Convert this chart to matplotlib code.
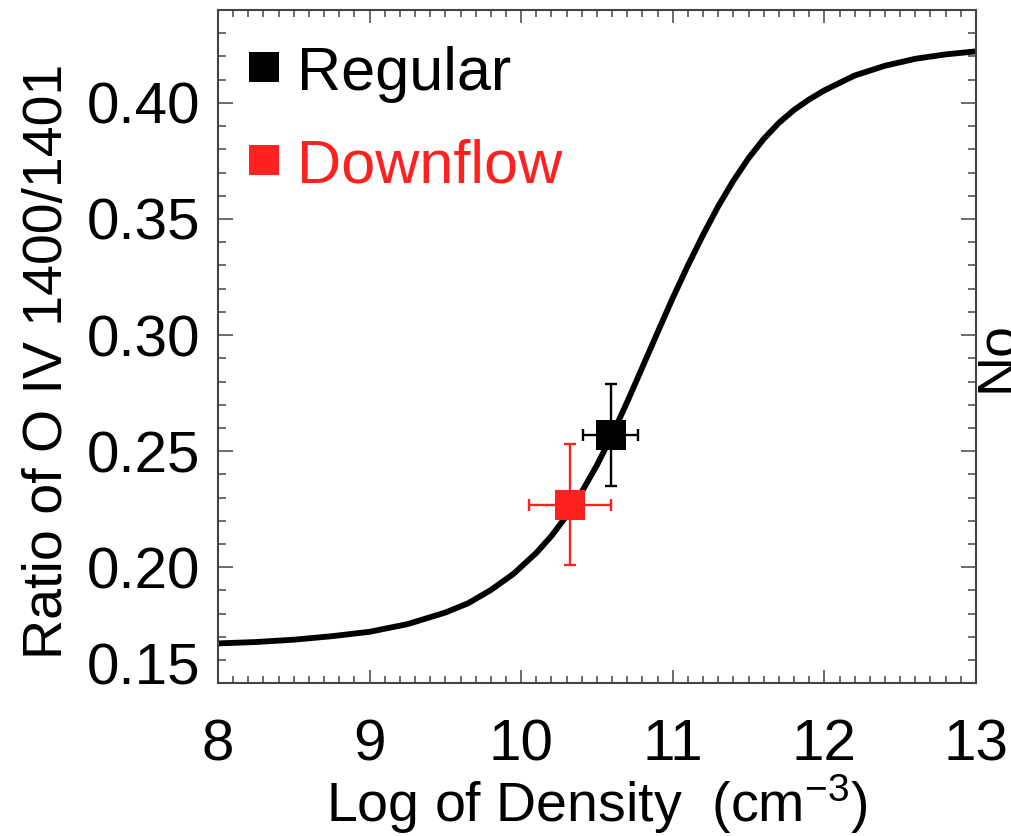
import matplotlib
matplotlib.use('Agg')
import matplotlib.pyplot as plt
from matplotlib.ticker import MultipleLocator
from matplotlib.transforms import ScaledTranslation

plt.rcParams['font.family'] = ['Liberation Sans', 'DejaVu Sans']
plt.rcParams['mathtext.fontset'] = 'custom'
plt.rcParams['mathtext.rm'] = 'Liberation Sans'
plt.rcParams['mathtext.it'] = 'Liberation Sans:italic'

# theoretical O IV 1400/1401 ratio vs log density
log_density = [8.0, 8.25, 8.5, 8.75, 9.0, 9.25, 9.5, 9.65, 9.8, 9.95,
               10.1, 10.2, 10.3, 10.4, 10.5, 10.6, 10.7, 10.8, 10.9, 11.0,
               11.1, 11.2, 11.3, 11.4, 11.5, 11.6, 11.7, 11.8, 11.9, 12.0,
               12.2, 12.4, 12.6, 12.8, 13.0]
ratio = [0.1672, 0.1678, 0.1688, 0.1703, 0.1722, 0.1755, 0.1805, 0.1845, 0.1902, 0.1972,
         0.2062, 0.2135, 0.2222, 0.2325, 0.2440, 0.2570, 0.2713, 0.2862, 0.3012, 0.3160,
         0.3300, 0.3432, 0.3555, 0.3665, 0.3762, 0.3845, 0.3914, 0.3970, 0.4015, 0.4054,
         0.4118, 0.4160, 0.4190, 0.4209, 0.4222]

# observed points
labels = ['Regular', 'Downflow']
colors = ['black', '#ff2020']
obs_density = [10.59, 10.32]
obs_ratio = [0.257, 0.227]
density_err = [0.18, 0.27]
ratio_err = [0.022, 0.026]

fig = plt.figure(figsize=(10.12, 8.36), dpi=100)
ax = fig.add_axes([0.2154, 0.1826, 0.749, 0.8054])

ax.plot(log_density, ratio, color='black', lw=4.2, solid_joinstyle='round', zorder=2)

for i in range(len(labels)):
    ax.errorbar(obs_density[i], obs_ratio[i], xerr=density_err[i], yerr=ratio_err[i],
                fmt='none', ecolor=colors[i], elinewidth=1.7, capsize=4.5, capthick=1.7, zorder=3)
    ax.plot(obs_density[i], obs_ratio[i], 's', color=colors[i], ms=21.6, mew=0, zorder=4)

# legend drawn by hand, IDL style
legend_y = [0.9153, 0.7775]
for i in range(len(labels)):
    ax.plot(0.0607, legend_y[i], 's', color=colors[i], ms=21.6, mew=0,
            transform=ax.transAxes, clip_on=False)
    ax.text(0.104, legend_y[i] - 0.034, labels[i], color=colors[i], fontsize=44,
            transform=ax.transAxes, va='baseline', ha='left')

ax.set_xlim(8, 13)
ax.set_ylim(0.15, 0.44)
ax.xaxis.set_major_locator(MultipleLocator(1))
ax.xaxis.set_minor_locator(MultipleLocator(0.1))
ax.yaxis.set_minor_locator(MultipleLocator(0.01))
ax.set_yticks([0.15, 0.20, 0.25, 0.30, 0.35, 0.40])
ax.set_yticklabels(['0.15', '0.20', '0.25', '0.30', '0.35', '0.40'])

ax.tick_params(which='both', direction='in', top=True, right=True, color='#444444', width=1.1)
ax.tick_params(axis='x', which='major', length=9.4, pad=25, labelsize=42)
ax.tick_params(axis='x', which='minor', length=5)
ax.tick_params(axis='y', which='major', length=10.8, pad=13, labelsize=42)
ax.tick_params(axis='y', which='minor', length=5.5)
for s in ax.spines.values():
    s.set_color('#444444')
    s.set_linewidth(1.5)

# the bottom label sits up off the corner like in the original
lab = ax.get_yticklabels()[0]
lab.set_transform(lab.get_transform() + ScaledTranslation(0, 0.2, fig.dpi_scale_trans))

ax.set_xlabel(r'Log of Density  (cm$^{-3}$)', fontsize=40, labelpad=0)
fig.text(22 / 1012, 1 - 361 / 836, 'Ratio of O IV 1400/1401', rotation=90,
         fontsize=40, ha='left', va='center')

# edge of the neighbouring panel's label
fig.text(972 / 1012, 1 - 392 / 836, 'No', rotation=90, fontsize=40, ha='left', va='bottom')

fig.savefig('out.png', dpi=100)
